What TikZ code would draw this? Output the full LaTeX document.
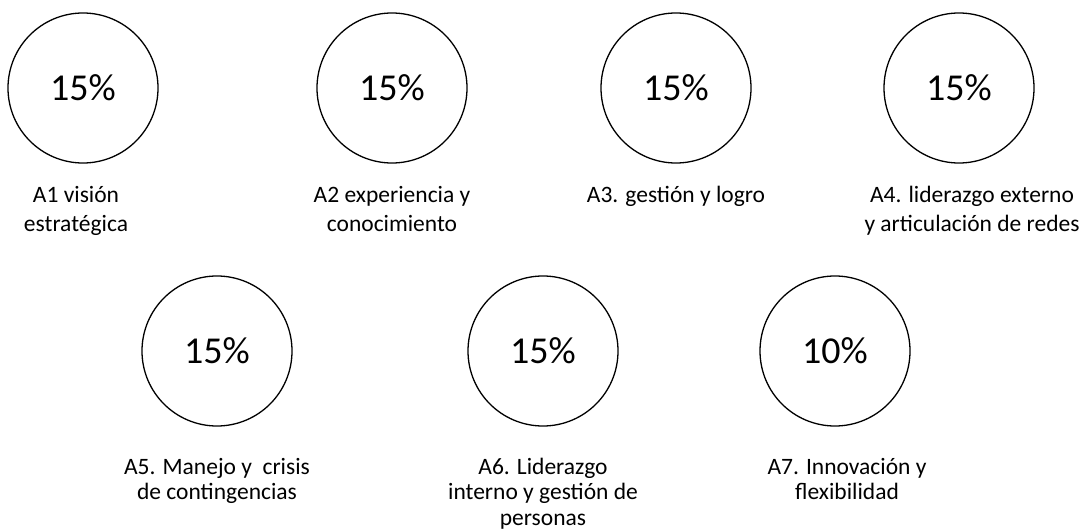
\documentclass[tikz,border=0pt]{standalone}
\usepackage{fontspec}
\setmainfont{Carlito}
\usetikzlibrary{positioning}
\begin{document}
\begin{tikzpicture}[x=1pt,y=-1pt]
    \tikzset{
        peso/.style={circle,draw,line width=1.3pt,minimum size=150pt,inner sep=0pt,font=\fontsize{38}{40}\selectfont},
        rotulo/.style={align=center,inner sep=0pt,font=\fontsize{23.5}{29}\selectfont},
        rotuloinf/.style={rotulo,font=\fontsize{23.5}{25.5}\selectfont}
    }
    \useasboundingbox (0,0) rectangle (1086,532);
    % fila superior
    \foreach \n/\x/\p in {1/83/15, 2/392/15, 3/676/15, 4/959/15}
        \node[peso] (c\n) at (\x,88) {\p\%};
    % fila inferior
    \foreach \n/\x/\p in {5/217/15, 6/543/15, 7/835/10}
        \node[peso] (c\n) at (\x,351) {\p\%};
    % rotulos
    \node[rotulo,below=22pt of c1,xshift=-7pt] (r1) {A1 visión\\estratégica};
    \node[rotulo,below=22pt of c2] (r2) {A2 experiencia y\\conocimiento};
    \node[rotulo,below=22pt of c3] (r3) {A3. gestión y logro};
    \node[rotulo,below=22pt of c4,xshift=13pt] (r4) {A4. liderazgo externo\\y articulación de redes};
    \node[rotuloinf,below=31pt of c5] (r5) {A5. Manejo y\ \ crisis\\de contingencias};
    \node[rotuloinf,below=31pt of c6] (r6) {A6. Liderazgo\\interno y gestión de\\personas};
    \node[rotuloinf,below=31pt of c7,xshift=12pt] (r7) {A7. Innovación y\\flexibilidad};
\end{tikzpicture}
\end{document}
